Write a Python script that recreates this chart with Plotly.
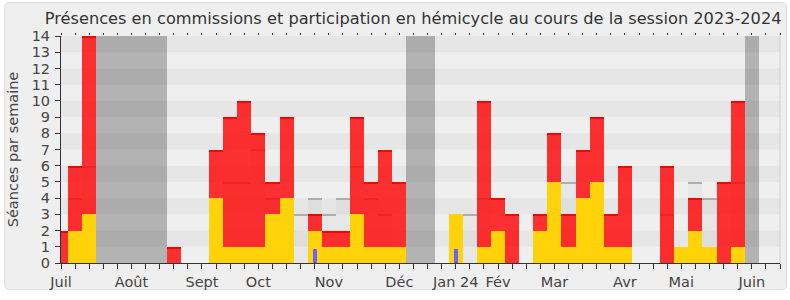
import plotly.graph_objects as go

# ---- data (weekly, session 2023-2024) ----
weeks = list(range(51))
hemicycle = [0, 2, 3, 0, 0, 0, 0, 0, 0, 0, 0, 4, 1, 1, 1, 3, 4, 0, 2, 1,
             1, 3, 1, 1, 1, 0, 0, 0, 3, 0, 1, 2, 0, 0, 2, 5, 1, 4, 5, 1,
             1, 0, 0, 0, 1, 2, 1, 0, 1, 0, 0]
total = [2, 6, 14, 0, 0, 0, 0, 0, 1, 0, 0, 7, 9, 10, 8, 5, 9, 0, 3, 2,
         2, 9, 5, 7, 5, 0, 0, 0, 3, 0, 10, 4, 3, 0, 3, 8, 3, 7, 9, 3,
         6, 0, 0, 6, 1, 4, 1, 5, 10, 0, 0]
questions = [0] * 51
questions[18] = 0.88
questions[28] = 0.88
median = [0, 4, 6, 0, 0, 0, 0, 0, 0, 0, 0, 0, 5, 5, 7, 4, 0, 3, 4, 3,
          4, 6, 4, 3, 0, 0, 0, 0, 0, 3, 4, 0, 0, 0, 0, 0, 5, 0, 0, 0,
          0, 0, 0, 3, 0, 5, 4, 0, 5, 0, 0]
vacation_weeks = [3, 4, 5, 6, 7, 25, 26, 49]
month_pos = [0, 5, 10, 14, 19, 24, 28, 31, 35, 40, 44, 49]
month_labels = ["Juil", "Août", "Sept", "Oct", "Nov", "Déc", "Jan 24", "Fév",
                "Mar", "Avr", "Mai", "Juin"]
y_max = 14
x_max = 51

commission = [t - h if t > h else 0 for t, h in zip(total, hemicycle)]

FONT = "DejaVu Sans"
fig = go.Figure()

# vacation bands
fig.add_trace(go.Bar(x=vacation_weeks, y=[y_max] * len(vacation_weeks), width=1,
                     marker=dict(color="rgba(0,0,0,0.25)", line=dict(width=0)),
                     hoverinfo="skip", showlegend=False))
# median bars (fill + top edge)
med_w = [w for w, m in zip(weeks, median) if m > 0]
med_v = [m for m in median if m > 0]
fig.add_trace(go.Bar(x=med_w, y=med_v, width=1,
                     marker=dict(color="rgba(0,0,0,0.03)", line=dict(width=0)),
                     showlegend=False))
edge = 0.09
fig.add_trace(go.Bar(x=med_w, y=[edge] * len(med_w), base=[m - edge for m in med_v], width=1,
                     marker=dict(color="#adadad", line=dict(width=0)), showlegend=False))
# commissions (red) stacked over hemicycle
com_w = [w for w, c in zip(weeks, commission) if c > 0]
com_b = [hemicycle[w] for w in com_w]
com_v = [commission[w] for w in com_w]
fig.add_trace(go.Bar(x=com_w, y=com_v, base=com_b, width=1,
                     marker=dict(color="rgba(255,0,0,0.8)", line=dict(width=0)),
                     showlegend=False))
fig.add_trace(go.Bar(x=com_w, y=[0.1] * len(com_w), base=[b + v - 0.1 for b, v in zip(com_b, com_v)],
                     width=1, marker=dict(color="rgba(255,0,0,1)", line=dict(width=0)),
                     showlegend=False))
# hemicycle (yellow)
fig.add_trace(go.Bar(x=weeks, y=hemicycle, width=1,
                     marker=dict(color="#ffd20a", line=dict(width=0)), showlegend=False))
# questions (blue)
fig.add_trace(go.Bar(x=weeks, y=questions, width=0.3,
                     marker=dict(color="#6464ff", line=dict(width=0)), showlegend=False))
# invisible trace for top axis ticks
fig.add_trace(go.Scatter(x=[0, x_max], y=[0, 0], xaxis="x2", mode="markers",
                         marker=dict(opacity=0), hoverinfo="skip", showlegend=False))

# stripes
shapes = []
for k in range(1, y_max, 2):
    shapes.append(dict(type="rect", xref="paper", yref="y", x0=0, x1=1, y0=k, y1=k + 1,
                       fillcolor="#e6e6e6", line=dict(width=0), layer="below"))
# right border
shapes.append(dict(type="line", xref="paper", yref="paper", x0=1, x1=1, y0=0, y1=1,
                   line=dict(color="#cfcfcf", width=1)))

# outer rounded frame (pixel -> paper)
L, R, T, B = 61.3, 780.0, 36.0, 266.0
def px(xp):
    return (xp - L) / (R - L)
def py(yp):
    return (B - yp) / (B - T)
x0, x1, y0, y1, r = 5, 786.5, 2, 293, 5
path = (f"M {px(x0 + r)},{py(y0)} L {px(x1 - r)},{py(y0)} Q {px(x1)},{py(y0)} {px(x1)},{py(y0 + r)} "
        f"L {px(x1)},{py(y1 - r)} Q {px(x1)},{py(y1)} {px(x1 - r)},{py(y1)} "
        f"L {px(x0 + r)},{py(y1)} Q {px(x0)},{py(y1)} {px(x0)},{py(y1 - r)} "
        f"L {px(x0)},{py(y0 + r)} Q {px(x0)},{py(y0)} {px(x0 + r)},{py(y0)} Z")
shapes.insert(0, dict(type="path", xref="paper", yref="paper", path=path,
                      fillcolor="#efefef", line=dict(color="#dcdcdc", width=1), layer="below"))

fig.update_layout(
    width=790, height=300,
    margin=dict(l=61, r=10, t=36, b=34, pad=0),
    paper_bgcolor="white", plot_bgcolor="#fafafa",
    barmode="overlay", bargap=0,
    font=dict(family=FONT, color="#444", size=14),
    title=dict(text="Présences en commissions et participation en hémicycle au cours de la session 2023-2024",
               x=0.523, xref="container", xanchor="center", y=0.94, yref="container", yanchor="middle",
               font=dict(family=FONT, size=16.2, color="#333")),
    shapes=shapes,
    xaxis=dict(range=[0, x_max], tickvals=month_pos, ticktext=month_labels,
               ticks="outside", ticklen=5, tickcolor="#333", tickwidth=1,
               showline=True, linecolor="#333", linewidth=1,
               showgrid=False, zeroline=False, ticklabelstandoff=1,
               minor=dict(tickvals=list(range(x_max + 1)), ticks="outside", ticklen=5,
                          tickcolor="#333", showgrid=False),
               tickfont=dict(size=14.5, color="#444")),
    xaxis2=dict(range=[0, x_max], overlaying="x", side="top", tickvals=list(range(x_max + 1)),
                ticks="outside", ticklen=2, tickcolor="#333", showticklabels=False,
                showline=False, showgrid=False, zeroline=False),
    yaxis=dict(range=[0, y_max], dtick=1, tick0=0, ticks="outside", ticklen=5, tickcolor="#333",
               showline=True, linecolor="#333", linewidth=1, showgrid=False, zeroline=False,
               ticklabelstandoff=2,
               tickfont=dict(size=14.5, color="#444"),
               title=dict(text="Séances par semaine", font=dict(size=14.5, color="#444"), standoff=9)),
)

fig.write_html("out.html")
